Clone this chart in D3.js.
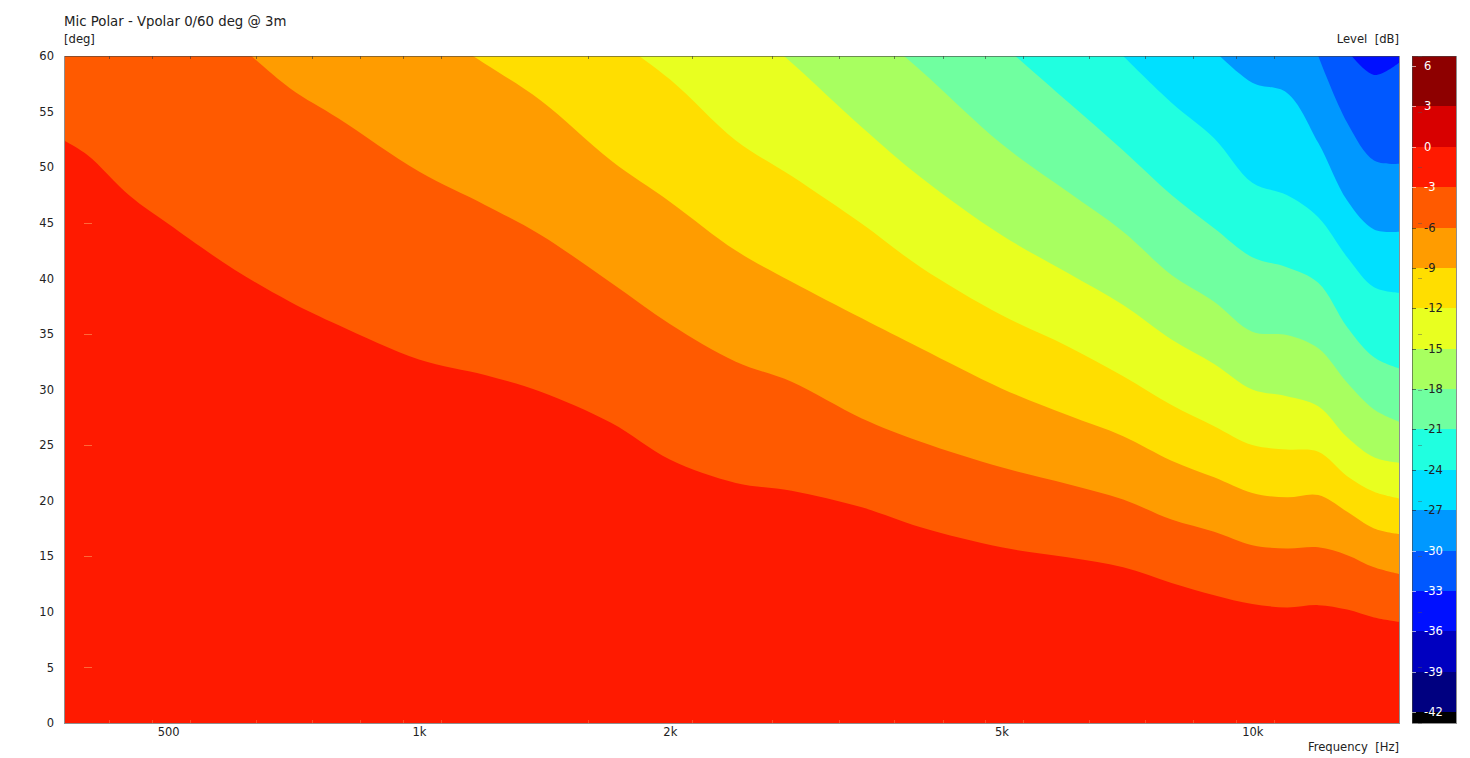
<!DOCTYPE html>
<html>
<head>
<meta charset="utf-8">
<script src="https://cdn.jsdelivr.net/npm/d3@7"></script>
<style>
html, body { margin: 0; padding: 0; background: #fff; }
svg { display: block; }
text { font-family: "DejaVu Sans", sans-serif; fill: #222; }
</style>
</head>
<body>
<div id="chart"></div>
<script>
// frequency grid the contours were read on [Hz]
var freqs = [375, 400, 450, 500, 600, 700, 800, 1000, 1200, 1400, 1700, 2000, 2400, 2800, 3400,
    4000, 5000, 6000, 7000, 8000, 9000, 10000, 11000, 12000, 13000, 14000, 15000];

// contour angle [deg] per level, aligned to the END of freqs.
// values above 60 are past the top edge and get clipped
var contourM3 = [52.4, 51.1, 47.4, 44.9, 40.8, 37.9, 35.8, 32.7, 31.3, 29.8, 27.0, 23.7, 21.6, 20.9, 19.4, 17.6, 15.8, 14.9, 14.0, 12.6, 11.5, 10.7, 10.4, 10.6, 10.2, 9.5, 9.1];
var contourM6 = [61.4, 57.1, 54.4, 49.6, 46.6, 43.9, 39.6, 35.9, 32.5, 30.7, 27.4, 25.3, 23.0, 21.5, 20.1, 18.3, 17.2, 16.0, 15.7, 15.8, 15.1, 14.0, 13.4];
var contourM9 = [63.1, 59.3, 56.0, 50.6, 46.9, 42.5, 39.7, 36.4, 33.7, 30.1, 27.7, 25.8, 23.6, 22.1, 20.7, 20.3, 20.5, 19.0, 17.5, 17.0];
var contourM12 = [61.8, 57.9, 52.4, 49.2, 44.9, 41.0, 36.7, 33.9, 31.2, 28.6, 26.7, 25.0, 24.6, 24.4, 22.2, 20.8, 20.2];
var contourM15 = [63.7, 59.4, 53.6, 49.1, 43.9, 40.5, 37.6, 34.5, 32.3, 30.0, 29.4, 28.5, 25.7, 23.9, 23.4];
var contourM18 = [63.2, 58.7, 52.1, 47.8, 44.2, 40.3, 37.9, 35.2, 34.9, 33.7, 30.6, 28.2, 27.1];
var contourM21 = [61.1, 55.9, 51.5, 47.5, 44.5, 41.9, 41.0, 39.6, 35.6, 32.9, 31.9];
var contourM24 = [60.0, 55.8, 52.6, 48.6, 47.5, 45.5, 41.9, 39.2, 38.7];
var contourM27 = [60.5, 57.6, 56.7, 52.2, 47.0, 44.4, 44.2];
var contourM30 = [60.0, 54.0, 50.6, 50.3];
var contourM33 = [60.5, 58.3, 59.4];

var contours = [contourM3, contourM6, contourM9, contourM12, contourM15, contourM18, contourM21, contourM24, contourM27, contourM30, contourM33];

// level bands, from the top of the colour bar down
var levels = [6, 3, 0, -3, -6, -9, -12, -15, -18, -21, -24, -27, -30, -33, -36, -39, -42];
var bandColors = ["#8e0000", "#d80000", "#ff1a00", "#ff5a00", "#ff9c00", "#ffde00", "#e8ff20", "#a8ff60",
    "#70ffa0", "#20ffe0", "#00e0ff", "#0098ff", "#0058ff", "#0010ff", "#0000c0", "#000080", "#000000"];
var levelLabelColors = ["#fff", "#fff", "#fff", "#fff", "#222", "#222", "#222", "#222", "#222", "#222", "#222", "#222", "#fff", "#fff", "#fff", "#fff", "#fff"];

var freqTicks = [500, 1000, 2000, 5000, 10000];
var freqLabels = ["500", "1k", "2k", "5k", "10k"];
var degTicks = [0, 5, 10, 15, 20, 25, 30, 35, 40, 45, 50, 55, 60];
var ghostDegs = [5, 15, 25, 35, 45];
var minorFreqs = [425, 478, 531, 638, 744, 850, 956, 1063, 1594, 2125, 2656, 3188, 3719, 4250, 4781, 5313, 6375, 7438, 8500, 9563, 10626];

var left = 65, right = 1399, top_ = 56, bottom = 723;
var barLeft = 1412, barRight = 1456;

var svg = d3.select("#chart").append("svg")
    .attr("width", 1470)
    .attr("height", 758);

var x = d3.scaleLog().domain([376, 15000]).range([left, right]);
var y = d3.scaleLinear().domain([0, 60]).range([bottom, top_]);
// colour bar scale, level 6 is at 66px and -42 at 712px
var barY = d3.scaleLinear().domain([6, -42]).range([66, 712]);

svg.append("clipPath").attr("id", "plotClip")
    .append("rect")
    .attr("x", left).attr("y", top_)
    .attr("width", right - left).attr("height", bottom - top_);

var plot = svg.append("g").attr("clip-path", "url(#plotClip)");

plot.append("rect")
    .attr("x", left).attr("y", top_)
    .attr("width", right - left).attr("height", bottom - top_)
    .attr("fill", bandColors[2]);

// each contour paints everything above it, lowest level first
var area = d3.area()
    .x(function(d) { return x(d[0]); })
    .y0(function(d) { return y(d[1]); })
    .y1(function() { return y(60) - 40; })
    .curve(d3.curveCatmullRom.alpha(0.5));

plot.selectAll("path")
    .data(contours)
    .enter()
    .append("path")
    .attr("fill", function(d, i) { return bandColors[i + 3]; })
    .attr("d", function(d) {
        var fs = freqs.slice(freqs.length - d.length);
        return area(d.map(function(v, i) { return [fs[i], v]; }));
    });

// faint dashes inside the plot
plot.selectAll("line.ghost")
    .data(ghostDegs)
    .enter()
    .append("line")
    .attr("class", "ghost")
    .attr("x1", 84).attr("x2", 92)
    .attr("y1", function(d) { return Math.round(y(d)) + 0.5; })
    .attr("y2", function(d) { return Math.round(y(d)) + 0.5; })
    .attr("stroke", "#ff8a50")
    .attr("stroke-opacity", 0.7);

// minor ticks on top and bottom edge
svg.selectAll("line.minorTop")
    .data(minorFreqs)
    .enter()
    .append("line")
    .attr("class", "minorTop")
    .attr("x1", function(d) { return Math.round(x(d)) + 0.5; })
    .attr("x2", function(d) { return Math.round(x(d)) + 0.5; })
    .attr("y1", top_).attr("y2", top_ + 3)
    .attr("stroke", "#333")
    .attr("stroke-opacity", 0.6);

svg.selectAll("line.minorBottom")
    .data(minorFreqs)
    .enter()
    .append("line")
    .attr("class", "minorBottom")
    .attr("x1", function(d) { return Math.round(x(d)) + 0.5; })
    .attr("x2", function(d) { return Math.round(x(d)) + 0.5; })
    .attr("y1", bottom - 3).attr("y2", bottom)
    .attr("stroke", "#ff6a40")
    .attr("stroke-opacity", 0.6);

svg.append("rect")
    .attr("x", left - 0.5).attr("y", top_ + 0.5)
    .attr("width", right - left + 1).attr("height", bottom - top_)
    .attr("fill", "none")
    .attr("stroke", "#444")
    .attr("stroke-opacity", 0.6);

// axes
var xAxis = d3.axisBottom(x)
    .tickValues(freqTicks)
    .tickSize(0)
    .tickPadding(5)
    .tickFormat(function(d, i) { return freqLabels[i]; });

var yAxis = d3.axisLeft(y)
    .tickValues(degTicks)
    .tickSize(0)
    .tickPadding(11);

var xG = svg.append("g").attr("transform", "translate(0," + bottom + ")").call(xAxis);
var yG = svg.append("g").attr("transform", "translate(" + left + ",0)").call(yAxis);
xG.select(".domain").remove();
yG.select(".domain").remove();
xG.selectAll("text").attr("font-size", "11.5px");
yG.selectAll("text").attr("font-size", "11.5px");
xG.attr("font-family", null).attr("font-size", null);
yG.attr("font-family", null).attr("font-size", null);

// colour bar
var barEdges = [top_].concat(levels.slice(1).map(function(d) { return barY(d); }));
svg.selectAll("rect.band")
    .data(bandColors)
    .enter()
    .append("rect")
    .attr("class", "band")
    .attr("x", barLeft)
    .attr("width", barRight - barLeft)
    .attr("y", function(d, i) { return Math.round(barEdges[i]); })
    .attr("height", function(d, i) {
        var end = i + 1 < barEdges.length ? barEdges[i + 1] : bottom;
        return Math.round(end) - Math.round(barEdges[i]);
    })
    .attr("fill", function(d) { return d; });

svg.append("rect")
    .attr("x", barLeft + 0.5).attr("y", top_ + 0.5)
    .attr("width", barRight - barLeft).attr("height", bottom - top_)
    .attr("fill", "none")
    .attr("stroke", "#444")
    .attr("stroke-opacity", 0.6);

svg.selectAll("line.barTick")
    .data(levels)
    .enter()
    .append("line")
    .attr("class", "barTick")
    .attr("x1", barLeft).attr("x2", barLeft + 4)
    .attr("y1", function(d) { return Math.round(barY(d)) + 0.5; })
    .attr("y2", function(d) { return Math.round(barY(d)) + 0.5; })
    .attr("stroke", function(d, i) { return levelLabelColors[i]; })
    .attr("stroke-opacity", 0.6);

svg.selectAll("line.barDeg")
    .data(degTicks)
    .enter()
    .append("line")
    .attr("class", "barDeg")
    .attr("x1", barLeft + 6).attr("x2", barLeft + 10)
    .attr("y1", function(d) { return Math.round(y(d)) + 0.5; })
    .attr("y2", function(d) { return Math.round(y(d)) + 0.5; })
    .attr("stroke", "#555")
    .attr("stroke-opacity", 0.45);

svg.selectAll("text.barLabel")
    .data(levels)
    .enter()
    .append("text")
    .attr("class", "barLabel")
    .attr("x", 1424)
    .attr("y", function(d) { return barY(d) + 4; })
    .attr("font-size", "11.5px")
    .style("fill", function(d, i) { return levelLabelColors[i]; })
    .text(function(d) { return d; });

// titles
svg.append("text").attr("x", 64).attr("y", 26).attr("font-size", "13.3px").text("Mic Polar - Vpolar 0/60 deg @ 3m");
svg.append("text").attr("x", 64).attr("y", 43).attr("font-size", "11.6px").text("[deg]");
svg.append("text").attr("x", 1399).attr("y", 43).attr("font-size", "11.6px").attr("text-anchor", "end").text("Level  [dB]").style("white-space", "pre");
svg.append("text").attr("x", 1399).attr("y", 751).attr("font-size", "11.6px").attr("text-anchor", "end").text("Frequency  [Hz]").style("white-space", "pre");
</script>
</body>
</html>
